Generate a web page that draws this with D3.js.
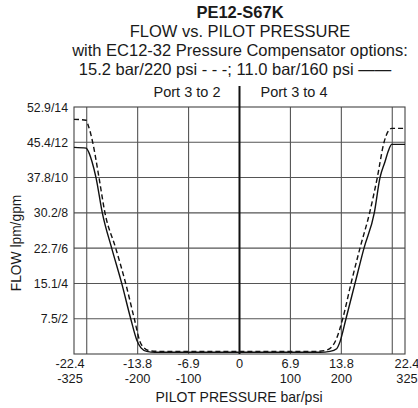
<!DOCTYPE html>
<html>
<head>
<meta charset="utf-8">
<script src="https://cdn.jsdelivr.net/npm/d3@7"></script>
<style>
  html, body { margin: 0; padding: 0; background: #fff; }
  svg { display: block; font-family: "Liberation Sans", Arial, Helvetica, sans-serif; }
</style>
</head>
<body>
<svg id="chart" width="418" height="408"></svg>
<script>
// ---- Data ----
const titleLines = [
  "PE12-S67K",
  "FLOW vs. PILOT PRESSURE",
  "with EC12-32 Pressure Compensator options:",
  "15.2 bar/220 psi - - -; 11.0 bar/160 psi \u2014\u2014"
];
const portLabels = ["Port 3 to 2", "Port 3 to 4"];
const xTickPsi = [-325, -200, -100, 0, 100, 200, 325];
const xTickBar = ["-22.4", "-13.8", "-6.9", "0", "6.9", "13.8", "22.4"];
const xTickPsiLabel = ["-325", "-200", "-100", "", "100", "200", "325"];
const xGridPsi = [-300, -200, -100, 100, 200, 300];
const yTickGpm = [2, 4, 6, 8, 10, 12, 14];
const yTickLabels = ["7.5/2", "15.1/4", "22.7/6", "30.2/8", "37.8/10", "45.4/12", "52.9/14"];
const xTitle = "PILOT PRESSURE bar/psi";
const yTitle = "FLOW lpm/gpm";

// 11.0 bar / 160 psi compensator (solid): pilot pressure (psi), flow (gpm)
const solidPsi = [-325, -301.4, -295.5, -289.6, -281.8, -269.4, -251, -231.3, -213.6, -201.8, -193.4, -182.2, -166, -100, 0, 100, 158.1, 177.7, 190.9, 197.4, 209.1, 226.8, 244.5, 264.7, 275.9, 285.7, 292.2, 298.9, 325];
const solidGpm = [11.71, 11.67, 11.4, 10.9, 10.0, 8.0, 6.0, 4.0, 2.0, 0.8, 0.35, 0.15, 0.1, 0.1, 0.1, 0.1, 0.1, 0.15, 0.3, 0.7, 2.0, 4.0, 6.0, 8.0, 10.0, 10.9, 11.5, 11.88, 11.88];
// 15.2 bar / 220 psi compensator (dashed)
const dashPsi = [-325, -301.4, -297.5, -288.3, -275.9, -264.2, -243.1, -223.5, -206.6, -195.4, -187.5, -175.8, -156.1, -100, 0, 100, 148.3, 167.9, 181.1, 189.5, 202.7, 219, 236.6, 255.5, 270.6, 283.8, 291.5, 298.9, 325];
const dashGpm = [13.3, 13.25, 13.0, 12.0, 10.0, 8.0, 6.0, 4.0, 2.0, 0.7, 0.35, 0.18, 0.15, 0.15, 0.15, 0.15, 0.15, 0.2, 0.4, 0.8, 2.0, 4.0, 6.0, 8.0, 10.0, 12.0, 12.6, 12.79, 12.79];

// ---- Layout ----
const svg = d3.select("#chart");
const pL = 74, pR = 405, pT = 107, pB = 354;
const x = d3.scaleLinear().domain([-325, 325]).range([pL, pR]);
const y = d3.scaleLinear().domain([0, 14]).range([pB, pT]);
const ink = "#1a1a1a";

// Titles
const titleY = [18, 37, 56, 75];
titleLines.forEach((t, i) => {
  svg.append("text")
    .attr("x", i === 3 ? 235 : 240)
    .attr("y", titleY[i])
    .attr("text-anchor", "middle")
    .attr("font-size", 16.5)
    .attr("font-weight", i === 0 ? "bold" : "normal")
    .attr("fill", ink)
    .text(t);
});

// Port labels
svg.append("text").attr("x", 187).attr("y", 97).attr("text-anchor", "middle")
  .attr("font-size", 14.5).attr("fill", ink).text(portLabels[0]);
svg.append("text").attr("x", 294).attr("y", 97).attr("text-anchor", "middle")
  .attr("font-size", 14.5).attr("fill", ink).text(portLabels[1]);

// Grid
const g = svg.append("g");
g.selectAll("line.hg").data(yTickGpm.filter(v => v < 14)).enter().append("line")
  .attr("x1", pL).attr("x2", pR)
  .attr("y1", d => y(d)).attr("y2", d => y(d))
  .attr("stroke", "#555").attr("stroke-width", 1.1);
g.selectAll("line.vg").data(xGridPsi).enter().append("line")
  .attr("y1", pT).attr("y2", pB)
  .attr("x1", d => x(d)).attr("x2", d => x(d))
  .attr("stroke", "#555").attr("stroke-width", 1.1);
// Frame
g.append("rect").attr("x", pL).attr("y", pT)
  .attr("width", pR - pL).attr("height", pB - pT)
  .attr("fill", "none").attr("stroke", "#444").attr("stroke-width", 1.1);
// Centre divider (0 psi), extends above plot
g.append("line").attr("x1", x(0)).attr("x2", x(0))
  .attr("y1", 86).attr("y2", pB)
  .attr("stroke", "#111").attr("stroke-width", 2);

// Y tick labels
svg.selectAll("text.yt").data(yTickGpm).enter().append("text")
  .attr("x", 68).attr("y", d => y(d) + 4.5)
  .attr("text-anchor", "end").attr("font-size", 12.3).attr("fill", ink)
  .text((d, i) => yTickLabels[i]);

// X tick labels (two lines: bar / psi)
xTickPsi.forEach((v, i) => {
  const cx = x(v) + (i === 0 ? -4 : (i === xTickPsi.length - 1 ? 2 : 0));
  svg.append("text").attr("x", cx).attr("y", 368)
    .attr("text-anchor", "middle").attr("font-size", 12.8).attr("fill", ink)
    .text(xTickBar[i]);
  if (xTickPsiLabel[i]) {
    svg.append("text").attr("x", cx).attr("y", 383)
      .attr("text-anchor", "middle").attr("font-size", 12.8).attr("fill", ink)
      .text(xTickPsiLabel[i]);
  }
});

// Axis titles
svg.append("text").attr("x", 239).attr("y", 402).attr("text-anchor", "middle")
  .attr("font-size", 14).attr("fill", ink).text(xTitle);
svg.append("text").attr("transform", "translate(20.5,243) rotate(-90)")
  .attr("text-anchor", "middle").attr("font-size", 13.8).attr("fill", ink).text(yTitle);

// Curves
const line = d3.line().x(d => x(d[0])).y(d => y(d[1])).curve(d3.curveMonotoneX);
svg.append("path").datum(solidPsi.map((p, i) => [p, solidGpm[i]]))
  .attr("d", line).attr("fill", "none").attr("stroke", "#111").attr("stroke-width", 1.4);
svg.append("path").datum(dashPsi.map((p, i) => [p, dashGpm[i]]))
  .attr("d", line).attr("fill", "none").attr("stroke", "#111").attr("stroke-width", 1.4)
  .attr("stroke-dasharray", "5,3");
</script>
</body>
</html>
